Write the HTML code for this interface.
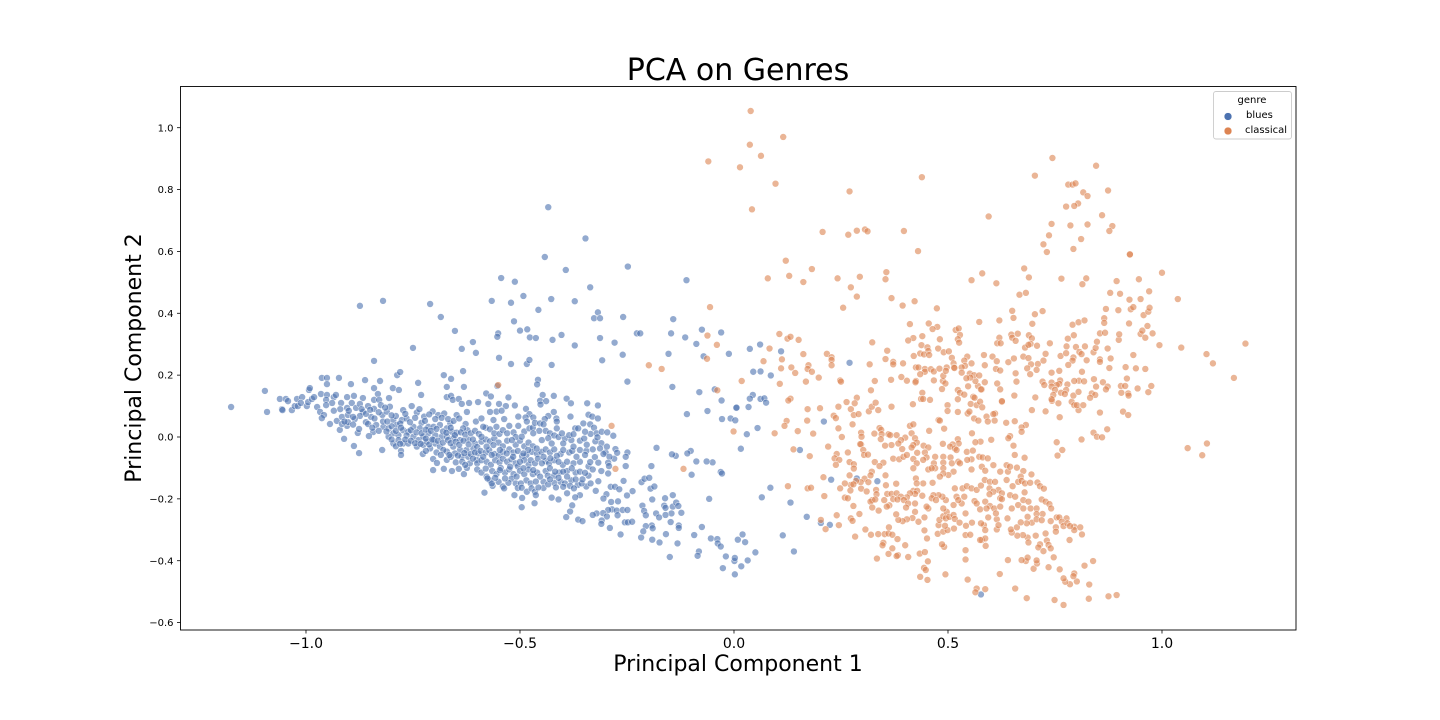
<!DOCTYPE html>
<html lang="en">
<head>
<meta charset="utf-8">
<title>PCA on Genres</title>
<style>
html,body{margin:0;padding:0;background:#fff;width:1440px;height:720px;overflow:hidden}
svg{display:block}
text{font-family:"DejaVu Sans","Liberation Sans",sans-serif;fill:#000}
</style>
</head>
<body>
<svg id="chart" width="1440" height="720" viewBox="0 0 1440 720" xmlns="http://www.w3.org/2000/svg">
  <rect x="0" y="0" width="1440" height="720" fill="#fff"/>
  <g id="marks"></g>
  <g id="ticks"></g>
  <rect x="180.5" y="86.5" width="1115.5" height="543.5" fill="none" stroke="#000" stroke-width="0.9"/>
  <text x="738" y="80" font-size="30" text-anchor="middle">PCA on Genres</text>
  <text x="738" y="671" font-size="22" text-anchor="middle">Principal Component 1</text>
  <text x="141" y="358" font-size="22" text-anchor="middle" transform="rotate(-90 141 358)">Principal Component 2</text>
  <g>
    <rect x="1213.5" y="91.5" width="78" height="47.5" rx="2.5" fill="#fff" fill-opacity="0.8" stroke="#ccc" stroke-width="0.9"/>
    <text x="1252" y="103" font-size="10" text-anchor="middle">genre</text>
    <circle cx="1228" cy="116.5" r="3.9" fill="#4c72b0" stroke="#fff" stroke-width="0.5"/>
    <text x="1246" y="118" font-size="10">blues</text>
    <circle cx="1228" cy="131" r="3.9" fill="#dd8452" stroke="#fff" stroke-width="0.5"/>
    <text x="1245" y="133" font-size="10">classical</text>
  </g>
</svg>
<script>
const xTickValues = [-1, -0.5, 0, 0.5, 1];
const xTickLabels = ["\u22121.0", "\u22120.5", "0.0", "0.5", "1.0"];
const yTickValues = [-0.6, -0.4, -0.2, 0, 0.2, 0.4, 0.6, 0.8, 1];
const yTickLabels = ["\u22120.6", "\u22120.4", "\u22120.2", "0.0", "0.2", "0.4", "0.6", "0.8", "1.0"];

const bluesPoints = [
[-1.175,.097],[-1.096,.149],[-1.091,.081],[-1.056,.09],[-1.055,.087],[-1.061,.123],[-1.047,.123],[-1.042,.116],[-1.033,.087],[-1.026,.1],[-1.019,.1],[-1.021,.123],[-1.009,.129],[-1.012,.11],[-.998,.1],[-.995,.113],[-.986,.123],[-.981,.129],[-.993,.152],[-.991,.158],[-.963,.191],[-.951,.191],[-.951,.171],[-.923,.191],[-.895,.171],[-.862,.184],[-.827,.181],[-.841,.158],[-.797,.158],[-.783,.152],[-.787,.2],[-.78,.21],[-.738,.175],[-.731,.136],[-.75,.288],[-.841,.246],[-.874,.424],[-.82,.44],[-.71,.43],[-.685,.388],[-.652,.343],[-.61,.307],[-.636,.285],[-.603,.272],[-.678,.2],[-.661,.188],[-.633,.213],[-.671,.162],[-.631,.162],[-.671,.129],[-.661,.133],[-.657,.12],[-.643,.123],[-.636,.107],[-.619,.11],[-.598,.113],[-.624,.081],
[-.965,.139],[-.951,.136],[-.953,.12],[-.935,.129],[-.93,.136],[-.939,.11],[-.953,.103],[-.974,.097],[-.967,.081],[-.958,.071],[-.963,.061],[-.944,.042],[-.928,.052],[-.921,.023],[-.916,.065],[-.902,.071],[-.904,.094],[-.904,.129],[-.888,.133],[-.918,.11],[-.893,.11],[-.883,.094],[-.867,.126],[-.874,.107],[-.855,.1],[-.841,.12],[-.832,.139],[-.829,.12],[-.806,.126],[-.825,.103],[-.841,.091],[-.867,.081],[-.874,.068],[-.886,.058],[-.904,.036],[-.916,.042],[-.902,.048],[-.86,.048],[-.848,.065],[-.855,.042],[-.836,.039],[-.843,.016],[-.853,.003],[-.879,.013],[-.876,.026],[-.911,-.006],[-.888,-.029],[-.876,-.052],[-.822,-.042],[-.778,-.045],[-.778,-.058],[-.727,-.055],[-.703,-.071],[-.694,-.084],[-.703,-.107],[-.678,-.103],[-.659,-.11],[-.643,-.103],[-.631,-.12],[-.624,-.1],
[-.8215,.071],[-.811,.082],[-.804,.098],[-.796,.055],[-.788,.039],[-.773,.087],[-.776,.055],[-.765,.06],[-.753,.1],[-.741,.079],[-.73,.046],[-.724,.066],[-.704,.083],[-.691,.071],[-.677,.076],[-.648,.071],[-.663,.044],[-.627,.042],[-.623,.022],[-.603,.05],[-.819,.033],[-.807,.028],[-.796,.012],[-.784,.006],[-.773,.022],[-.761,.017],[-.749,.033],[-.734,.028],[-.714,.033],[-.702,.033],[-.687,.039],[-.671,.028],[-.659,.017],[-.648,.014],[-.807,.001],[-.796,-.021],[-.784,-.01],[-.773,-.021],[-.761,-.021],[-.749,.001],[-.737,-.01],[-.726,.001],[-.714,.012],[-.698,.006],[-.683,.001],[-.671,.001],[-.656,-.004],[-.64,-.01],[-.621,-.008],[-.605,-.021],[-.741,-.031],[-.726,-.026],[-.71,-.037],[-.698,-.021],[-.687,-.031],[-.671,-.047],[-.656,-.031],[-.64,-.042],[-.625,-.042],[-.609,-.037],[-.597,-.053],[-.679,-.042],[-.652,-.053],[-.636,-.064],[-.621,-.064],[-.601,-.074],[-.617,-.085],[-.671,-.074],[-.662,-.064],[-.702,-.01],[-.718,-.015],
[-.79,.068],[-.78,.044],[-.768,.075],[-.757,.048],[-.745,.062],[-.735,.09],[-.722,.052],[-.712,.073],[-.698,.058],[-.683,.062],[-.668,.058],[-.655,.052],[-.642,.06],[-.633,.028],[-.812,.018],[-.8,.035],[-.79,.02],[-.778,.03],[-.765,.005],[-.755,.022],[-.742,.015],[-.73,.012],[-.72,.024],[-.708,.02],[-.695,.026],[-.68,.018],[-.672,.014],[-.662,.03],[-.652,.006],[-.638,.015],[-.628,.008],[-.615,.012],[-.605,.02],[-.596,.01],[-.8,-.008],[-.79,-.03],[-.78,-.022],[-.768,-.008],[-.755,-.012],[-.745,-.02],[-.732,-.022],[-.72,-.005],[-.712,-.024],[-.705,-.008],[-.692,-.012],[-.68,-.018],[-.668,-.01],[-.662,-.02],[-.65,-.015],[-.642,-.025],[-.632,-.012],[-.62,-.024],[-.61,-.008],[-.6,-.032],[-.59,-.015],[-.58,-.008],[-.57,-.014],[-.56,-.005],[-.55,-.018],[-.54,-.03],[-.53,-.012],[-.51,-.025],[-.5,-.012],[-.49,-.03],[-.48,-.018],[-.47,-.03],
[-.72,-.045],[-.695,-.05],[-.685,-.058],[-.665,-.058],[-.645,-.06],[-.63,-.052],[-.615,-.055],[-.605,-.05],[-.592,-.045],[-.58,-.05],[-.572,-.042],[-.56,-.055],[-.55,-.06],[-.54,-.048],[-.525,-.04],[-.515,-.05],[-.505,-.045],[-.495,-.062],[-.485,-.058],[-.472,-.048],[-.46,-.055],[-.45,-.048],[-.44,-.04],[-.43,-.05],[-.42,-.04],[-.405,-.055],[-.385,-.05],[-.378,-.045],[-.36,-.042],[-.345,-.045],[-.65,-.082],[-.635,-.08],[-.628,-.09],[-.61,-.07],[-.6,-.085],[-.59,-.075],[-.578,-.08],[-.568,-.09],[-.558,-.075],[-.548,-.082],[-.54,-.07],[-.53,-.08],[-.52,-.072],[-.51,-.085],[-.505,-.095],[-.49,-.075],[-.48,-.09],[-.475,-.075],[-.465,-.085],[-.458,-.07],[-.44,-.078],[-.432,-.085],[-.42,-.075],[-.4,-.09],[-.39,-.08],[-.375,-.085],[-.36,-.08],[-.34,-.095],
[-.6,-.105],[-.59,-.115],[-.58,-.102],[-.565,-.11],[-.555,-.12],[-.545,-.1],[-.535,-.115],[-.525,-.105],[-.515,-.12],[-.5,-.11],[-.49,-.12],[-.48,-.105],[-.47,-.12],[-.46,-.115],[-.44,-.11],[-.435,-.125],[-.42,-.125],[-.408,-.115],[-.39,-.11],[-.37,-.115],[-.34,-.125],[-.57,-.14],[-.55,-.145],[-.54,-.16],[-.52,-.135],[-.51,-.15],[-.505,-.165],[-.485,-.14],[-.475,-.15],[-.445,-.145],[-.445,-.165],[-.42,-.148],[-.405,-.145],[-.395,-.15],[-.38,-.14],[-.365,-.155],[-.345,-.16],[-.335,-.15],
[-.59,.06],[-.58,.03],[-.57,.025],[-.56,.012],[-.548,.01],[-.54,.022],[-.53,.012],[-.515,.015],[-.51,.0],[-.49,.018],[-.478,.028],[-.47,.03],[-.455,.02],[-.44,.02],[-.43,.012],[-.42,.005],[-.41,.0],[-.395,-.005],[-.38,-.01],[-.36,-.012],[-.35,-.005],[-.335,.01],[-.31,-.02],[-.33,-.04],[-.325,-.065],[-.3,-.05],[-.28,-.07],[-.33,-.105],[-.31,-.11],[-.9,.085],[-.89,.065],[-.87,.09],[-.86,.075],[-.85,.088],[-.84,.06],[-.83,.08],[-.815,.095],[-.82,.05],[-.845,.03],[-.83,.02],[-.81,.05],[-.8,.07],[-.92,.09],[-.935,.085],[-.91,.05],[-.89,.04],
[-.566,.44],[-.521,.434],[-.492,.456],[-.427,.446],[-.372,.439],[-.336,.484],[-.512,.502],[-.544,.514],[-.457,.411],[-.514,.374],[-.483,.348],[-.5,.344],[-.551,.335],[-.553,.324],[-.477,.322],[-.463,.32],[-.424,.314],[-.403,.33],[-.372,.296],[-.318,.403],[-.327,.384],[-.313,.384],[-.259,.388],[-.313,.32],[-.279,.305],[-.26,.266],[-.308,.248],[-.227,.335],[-.219,.335],[-.142,.381],[-.147,.335],[-.114,.322],[-.075,.347],[-.03,.338],[-.088,.301],[-.153,.269],[-.071,.261],[-.012,.269],[-.249,.179],[-.144,.162],[-.081,.145],[-.045,.154],[-.029,.118],[.005,.094],[-.11,.074],[-.062,.084],[-.028,.058],[-.008,.06],[.003,.054],[-.549,.256],[-.521,.236],[-.484,.236],[-.478,.249],[-.426,.233],[-.458,.185],[-.46,.17],[-.553,.165],[-.579,.141],[-.568,.131],[-.527,.128],[-.421,.133],[-.447,.136],[-.453,.117],[-.439,.116],[-.452,.105],[-.391,.124],[-.381,.109],[-.343,.109],[-.318,.102],[-.512,.102],[-.549,.107],[-.574,.107],[-.533,.1],[-.555,.082],[-.543,.085],[-.57,.081],[-.486,.091],[-.421,.081],[-.434,.068],[-.442,.058],[-.478,.074],[-.504,.066],[-.469,.063],[-.487,.063],[-.382,.066],[-.415,.06],[-.34,.072],[-.331,.066],[-.318,.06],[-.414,.05],[-.562,.055],[-.537,.058],[-.555,.033],[-.525,.036],[-.504,.036],[-.484,.05],[-.465,.046],[-.453,.044],[-.445,.041],[-.414,.028],[-.402,.012],[-.371,.028],[-.364,.028],[-.352,.044],[-.336,.041],[-.327,.03],[-.348,.017],[-.385,.006],[-.375,.009],[-.321,.012],[-.309,.017],[-.296,.015],[-.282,.004],[-.324,-.014],[-.319,-.001],[-.344,-.025],[-.313,-.037],[-.297,-.031],[-.277,-.039],[-.273,-.051],[-.249,-.05],[-.253,-.064],[-.305,-.055],[-.317,-.083],[-.336,-.081],[-.348,-.058],[-.291,-.064],[-.294,-.083],[-.292,-.094],[-.294,-.118],[-.253,-.094],[-.368,-.064],[-.375,-.031],[-.399,-.021],[-.399,-.042],[-.414,-.061],[-.429,-.069],[-.41,-.08],[-.445,-.064],[-.449,-.085],[-.461,-.037],[-.481,-.042],[-.492,-.053],[-.516,-.064],[-.5,-.08],[-.531,-.053],[-.547,-.042],[-.562,-.026],[-.578,-.031],[-.586,.033],[-.59,.001],[-.566,-.058],[-.586,-.064],[-.547,-.107],[-.519,-.01],[-.496,.001],[-.469,.012],[-.449,-.01],[-.434,-.004],[-.426,-.021],[-.523,-.096],[-.492,-.101],[-.469,-.107],[-.43,-.101],[-.399,-.112],[-.379,-.101],[-.36,-.112],[-.348,-.116],[-.418,-.112],[-.578,-.128],[-.508,-.128],[-.453,-.128],
[-.583,-.18],[-.564,-.158],[-.566,-.15],[-.537,-.166],[-.513,-.188],[-.495,-.197],[-.496,-.227],[-.466,-.214],[-.498,-.15],[-.496,-.164],[-.484,-.177],[-.473,-.166],[-.465,-.177],[-.463,-.188],[-.457,-.163],[-.463,-.144],[-.527,-.148],[-.535,-.134],[-.558,-.132],[-.576,-.134],[-.426,-.196],[-.41,-.202],[-.434,-.153],[-.416,-.163],[-.399,-.161],[-.39,-.182],[-.383,-.158],[-.374,-.166],[-.36,-.188],[-.371,-.195],[-.378,-.221],[-.383,-.241],[-.392,-.259],[-.364,-.267],[-.354,-.272],[-.356,-.15],[-.354,-.137],[-.37,-.137],[-.39,-.128],[-.41,-.132],[-.43,-.137],[-.317,-.143],[-.323,-.174],[-.288,-.161],[-.278,-.161],[-.268,-.169],[-.258,-.142],[-.237,-.175],[-.25,-.189],[-.298,-.185],[-.305,-.199],[-.287,-.21],[-.271,-.208],[-.285,-.234],[-.294,-.236],[-.274,-.238],[-.26,-.236],[-.249,-.236],[-.306,-.246],[-.321,-.247],[-.33,-.252],[-.297,-.257],[-.272,-.253],[-.309,-.27],[-.31,-.281],[-.29,-.294],[-.265,-.315],[-.255,-.276],[-.248,-.276],[-.238,-.274],[-.216,-.146],[-.209,-.135],[-.198,-.132],[-.195,-.167],[-.186,-.16],[-.191,-.202],[-.214,-.222],[-.21,-.239],[-.206,-.253],[-.182,-.247],[-.175,-.26],[-.161,-.198],[-.143,-.188],[-.163,-.222],[-.16,-.229],[-.143,-.225],[-.135,-.212],[-.13,-.223],[-.146,-.247],[-.123,-.245],[-.16,-.252],[-.148,-.275],[-.129,-.286],[-.129,-.294],[-.075,-.291],[-.192,-.286],[-.19,-.295],[-.206,-.288],[-.212,-.305],[-.217,-.325],[-.191,-.332],[-.159,-.314],[-.174,-.341],[-.132,-.344],[-.093,-.317],[-.054,-.328],[-.039,-.33],[-.038,-.344],[-.031,-.354],[.009,-.332],[.02,-.315],[.026,-.34],[.05,-.373],[.032,-.399],[.017,-.418],[.002,-.444],[-.026,-.424],[.001,-.401],[.002,-.391],[-.019,-.386],[-.082,-.37],[-.085,-.384],[-.15,-.388],[.085,-.164],[.065,-.195],[-.058,-.2],[-.031,-.113],[-.028,-.118],[-.099,-.122],[-.05,-.082],[-.064,-.079],[-.088,-.079],[-.101,-.045],[-.109,-.053],[-.136,-.061],[-.145,-.056],[-.181,-.035],[-.193,-.094],[.016,-.038],
[-.434,.743],[-.347,.642],[-.442,.582],[-.393,.54],[-.248,.551],[-.111,.507],
[.037,.285],[.061,.299],[.11,.277],[.045,.211],[.062,.212],[.086,.199],[.27,.24],[.044,.136],[.037,.124],[.062,.123],[.071,.125],[.075,.111],[.006,.095],[.034,.097],[.055,.029],[.03,.009],[.21,.05],
[.154,-.042],[.227,-.138],[.335,-.143],[.287,-.134],[.132,-.212],[.17,-.258],[.203,-.278],[.224,-.284],[.114,-.318],[.14,-.37],[.577,-.509]
];

const classicalPoints = [
[.079,.513],[.129,.521],[.162,.501],[.242,.513],[.273,.484],[.294,.518],[.287,.454],[.255,.418],[.106,.333],[.125,.318],[.132,.324],[.151,.314],[.083,.286],[.162,.268],[.217,.269],[.228,.258],[.228,.249],[.228,.232],[.069,.245],[.112,.251],[.174,.232],[.172,.22],[.182,.211],[.134,.225],[.11,.222],[.143,.207],[.198,.192],[.018,.181],[.107,.172],[.168,.179],[.248,.183],[.25,.179],[.287,.127],[.132,.124],[.127,.118],[-.001,.018],[.095,.012],
[-.056,.42],[-.062,.328],[-.04,.298],[-.063,.253],[-.199,.232],[-.169,.22],[-.039,.151],[-.286,.036],[-.277,-.103],[-.118,-.103],[-.551,.168],
[.172,.09],[.201,.093],[.244,.098],[.263,.113],[.273,.09],[.282,.109],[.315,.083],[.322,.098],[.331,.111],[.337,.087],[.368,.098],[.418,.106],[.499,.103],[.553,.107],[.567,.103],[.575,.114],[.58,.096],[.499,.084],[.523,.081],[.546,.076],[.55,.082],[.561,.06],[.571,.053],[.59,.066],[.593,.05],[.61,.076],[.609,.053],[.606,.074],[.626,.114],[.636,.046],[.656,.051],[.696,.087],[.728,.083],[.743,.117],[.758,.109],[.761,.064],[.789,.114],[.795,.103],[.805,.087],[.801,.103],[.816,.103],[.855,.079],[.123,.052],[.118,.036],[.149,.019],[.171,.053],[.185,.011],[.233,.069],[.238,.061],[.28,.071],[.291,.074],[.277,.041],[.244,.028],[.252,0],[.22,-.031],[.139,-.04],[.177,-.062],[.34,.029],[.344,.023],[.328,.011],[.297,.014],[.298,.001],[.345,.009],[.343,-.007],[.361,.009],[.365,.006],[.38,.006],[.4,-.002],[.39,-.01],[.415,.012],[.411,.036],[.419,.041],[.456,.02],[.478,.055],[.481,.053],[.491,.027],[.556,.012],[.682,.039],[.672,.031],[.672,.017],[.645,.003],[.641,-.004],[.601,-.009],[.576,-.015],[.564,-.017],[.523,-.007],[.525,-.021],[.511,-.024],[.505,-.031],[.516,-.037],[.52,-.042],[.488,-.022],[.423,-.004],[.427,-.018],[.419,-.026],[.415,-.034],[.393,-.039],[.384,-.021],[.368,-.026],[.353,-.028],[.297,-.024],[.295,-.023],[.302,-.042],[.304,-.058],[.313,-.057],[.266,-.05],[.24,-.055],[.235,-.069],[.246,-.074],[.238,-.09],[.27,-.081],[.28,-.088],[.28,-.102],[.27,-.124],[.209,-.13],[.329,-.081],[.349,-.083],[.34,-.094],[.322,-.112],[.319,-.124],[.354,-.124],[.305,-.135],[.314,-.146],[.296,-.146],[.285,-.142],[.273,-.155],[.279,-.153],[.259,-.15],[.248,-.166],[.272,-.173],[.297,-.167],[.31,-.176],[.332,-.171],[.333,-.185],[.379,-.151],[.355,-.156],[.358,-.184],[.368,-.184],[.38,-.182],[.372,-.201],[.351,-.204],[.323,-.204],[.319,-.209],[.33,-.202],[.279,-.223],[.259,-.196],[.266,-.198],[.211,-.191],[.126,-.159],[.172,-.166],[.18,-.164],
[.372,-.07],[.386,-.072],[.396,-.064],[.404,-.058],[.419,-.071],[.428,-.051],[.427,-.085],[.419,-.101],[.443,-.028],[.454,-.034],[.446,-.05],[.45,-.066],[.442,-.074],[.47,-.064],[.489,-.064],[.506,-.066],[.489,-.083],[.467,-.085],[.47,-.101],[.454,-.105],[.462,-.101],[.489,-.101],[.509,-.085],[.524,-.08],[.528,-.085],[.544,-.048],[.558,-.044],[.555,-.072],[.545,-.074],[.573,-.064],[.581,-.066],[.593,-.069],[.606,-.091],[.579,-.096],[.587,-.109],[.555,-.105],[.513,-.112],[.501,-.123],[.489,-.118],[.481,-.128],[.464,-.148],[.442,-.15],[.425,-.134],[.427,-.15],[.419,-.174],[.428,-.174],[.423,-.184],[.411,-.182],[.404,-.195],[.39,-.193],[.382,-.202],[.397,-.204],[.407,-.215],[.423,-.215],[.402,-.228],[.423,-.242],[.363,-.221],[.357,-.225],[.323,-.228],[.338,-.238],[.293,-.249],[.24,-.253],[.273,-.263],[.277,-.271],[.203,-.268],[.214,-.298],[.245,-.285],[.283,-.322],[.307,-.299],[.32,-.316],[.337,-.314],[.352,-.314],[.362,-.292],[.361,-.312],[.37,-.316],[.382,-.33],[.349,-.342],[.347,-.35],[.4,-.35],[.37,-.36],[.361,-.378],[.383,-.382],[.38,-.385],[.334,-.393],[.407,-.388],[.434,-.377],[.446,-.372],[.453,-.402],[.444,-.423],[.448,-.43],[.435,-.452],[.452,-.462],[.494,-.444],[.546,-.461],[.567,-.49],[.564,-.502],[.587,-.492],[.621,-.443],[.657,-.49],[.684,-.521],[.749,-.527],[.77,-.543],[.829,-.523],[.875,-.515],[.894,-.511],[.83,-.477],[.801,-.467],[.785,-.476],[.774,-.468],[.77,-.457],[.795,-.441],[.793,-.45],[.761,-.428],[.735,-.421],[.7,-.426],[.708,-.409],[.707,-.399],[.682,-.401],[.686,-.39],[.672,-.398],[.64,-.398],[.747,-.389],[.819,-.416],[.839,-.401],[.541,-.366],[.541,-.396],[.491,-.355],[.486,-.347],[.451,-.328],[.445,-.302],[.476,-.313],[.489,-.306],[.499,-.301],[.478,-.285],[.493,-.287],[.48,-.268],[.489,-.256],[.497,-.242],[.495,-.263],[.503,-.258],[.513,-.252],[.516,-.265],[.527,-.277],[.514,-.296],[.541,-.317],[.552,-.316],[.556,-.277],[.542,-.287],[.541,-.247],[.532,-.215],[.52,-.193],[.524,-.204],[.538,-.193],[.513,-.22],[.489,-.231],[.495,-.204],[.487,-.193],[.478,-.188],[.466,-.188],[.462,-.198],[.454,-.231],[.45,-.225],[.472,-.204],[.445,-.26],[.431,-.274],[.417,-.262],[.404,-.266],[.394,-.272],[.384,-.268],[.379,-.25],[.44,-.19],[.516,-.166],[.534,-.166],[.544,-.159],[.555,-.166],[.567,-.171],[.577,-.157],[.586,-.139],[.598,-.145],[.61,-.145],[.597,-.166],[.618,-.171],[.626,-.182],[.645,-.188],[.657,-.193],[.637,-.139],[.64,-.112],[.622,-.112],[.637,-.091],[.645,-.096],[.661,-.099],[.676,-.11],[.695,-.121],[.67,-.128],[.664,-.145],[.672,-.142],[.68,-.15],[.692,-.148],[.709,-.147],[.715,-.159],[.724,-.167],[.651,-.159],[.679,-.179],[.622,-.198],[.626,-.201],[.606,-.177],[.597,-.185],[.587,-.209],[.575,-.234],[.562,-.207],[.567,-.215],[.598,-.223],[.59,-.231],[.608,-.231],[.622,-.225],[.649,-.231],[.664,-.22],[.676,-.204],[.688,-.209],[.676,-.231],[.693,-.231],[.707,-.231],[.719,-.202],[.728,-.209],[.737,-.217],[.741,-.231],[.721,-.249],[.707,-.249],[.686,-.258],[.696,-.277],[.684,-.279],[.707,-.266],[.719,-.269],[.74,-.272],[.754,-.26],[.76,-.26],[.777,-.263],[.766,-.274],[.77,-.288],[.779,-.279],[.752,-.292],[.752,-.306],[.795,-.29],[.795,-.301],[.809,-.292],[.813,-.315],[.784,-.333],[.728,-.312],[.705,-.319],[.686,-.325],[.688,-.341],[.675,-.317],[.662,-.319],[.649,-.309],[.647,-.299],[.661,-.292],[.67,-.276],[.639,-.263],[.614,-.266],[.594,-.26],[.584,-.285],[.577,-.279],[.587,-.301],[.579,-.333],[.587,-.328],[.588,-.352],[.575,-.333],[.614,-.299],[.618,-.285],[.612,-.247],[.731,-.335],[.735,-.349],[.74,-.36],[.715,-.347],[.711,-.357],[.723,-.369],[.785,-.288],
[.872,.025],[.84,.014],[.848,.001],[.86,-.001],[.812,-.008],[.754,-.017],[.767,-.042],[.756,-.06],[.679,-.067],[.656,-.058],[.653,-.028],
[.207,.663],[.267,.654],[.287,.667],[.306,.671],[.312,.665],[.397,.666],[.43,.601],[.121,.57],[.182,.543],[.368,.449],[.356,.533],[.354,.51],[.394,.425],[.422,.439],[.474,.416],[.411,.365],[.455,.367],[.475,.356],[.464,.349],[.573,.372],[.62,.377],[.518,.346],[.525,.351],[.528,.33],[.523,.316],[.526,.305],[.44,.326],[.419,.32],[.407,.312],[.481,.316],[.438,.297],[.452,.29],[.454,.278],[.435,.27],[.444,.267],[.456,.265],[.42,.262],[.477,.286],[.49,.274],[.502,.277],[.509,.256],[.513,.238],[.514,.225],[.545,.26],[.538,.247],[.54,.23],[.532,.225],[.555,.238],[.584,.265],[.604,.26],[.614,.245],[.586,.232],[.612,.22],[.622,.215],[.641,.242],[.654,.254],[.676,.26],[.688,.255],[.694,.235],[.685,.222],[.71,.236],[.723,.247],[.728,.269],[.707,.217],[.692,.203],[.658,.206],[.66,.179],[.615,.173],[.622,.154],[.586,.177],[.57,.165],[.579,.154],[.547,.164],[.564,.181],[.551,.205],[.561,.2],[.573,.199],[.552,.192],[.543,.19],[.532,.208],[.488,.181],[.494,.173],[.489,.198],[.467,.183],[.486,.155],[.404,.182],[.425,.181],[.391,.194],[.367,.185],[.329,.181],[.32,.151],[.354,.252],[.358,.279],[.323,.306],[.372,.243],[.372,.235],[.395,.238],[.317,.235],[.425,.225],[.431,.225],[.446,.22],[.446,.211],[.435,.203],[.46,.219],[.467,.212],[.48,.221],[.497,.225],[.495,.214],[.515,.223],[.424,.177],[.44,.143],[.437,.123],[.442,.123],[.458,.12],[.523,.152],[.528,.143],[.538,.137],[.523,.122],[.559,.13],[.562,.127],[.577,.154],[.626,.116],[.655,.134],[.704,.128],[.65,.408],[.653,.385],[.703,.397],[.721,.407],[.697,.366],[.667,.46],[.682,.466],[.689,.516],[.555,.507],[.58,.529],[.613,.497],[.648,.331],[.663,.334],[.65,.321],[.658,.311],[.689,.329],[.696,.319],[.693,.301],[.68,.289],[.688,.298],[.708,.295],[.62,.321],[.615,.303],[.623,.303],[.738,.303],[.78,.318],[.794,.329],[.777,.293],[.799,.291],[.82,.293],[.763,.262],[.776,.271],[.793,.257],[.791,.247],[.807,.275],[.812,.268],[.824,.248],[.781,.233],[.76,.214],[.742,.208],[.813,.211],[.841,.187],[.806,.182],[.795,.181],[.818,.18],[.762,.183],[.76,.172],[.721,.179],[.725,.168],[.742,.176],[.754,.168],[.742,.163],[.779,.17],[.776,.152],[.75,.152],[.764,.143],[.773,.139],[.746,.136],[.793,.134],[.805,.146],[.836,.141],[.844,.136],[.832,.127],[.742,.122],[.846,.163],[.862,.177],[.873,.163],[.869,.154],[.904,.165],[.914,.165],[.943,.157],[.975,.165],[.968,.145],[.905,.143],[.921,.141],[.922,.134],[.918,.189],[.915,.226],[.939,.222],[.961,.22],[.877,.223],[.88,.254],[.855,.251],[.855,.243],[.933,.265],[.873,.286],[.84,.274],[.845,.288],[.848,.308],[.855,.335],[.867,.337],[.899,.314],[.9,.332],[.95,.333],[.954,.344],[.961,.321],[.978,.335],[.966,.359],[.994,.297],[1.045,.289],[.923,.367],[.865,.384],[.865,.369],[.791,.363],[.805,.371],[.819,.377],[.869,.414],[.898,.41],[.927,.413],[.933,.42],[.957,.394],[.968,.405],[.971,.418],[.95,.446],[.924,.444],[.902,.463],[.879,.466],[.97,.471],[1.037,.446],[.894,.504],[.946,.51],[1.0,.531],[.765,.512],[.823,.513],[.814,.494],[.925,.591],[.925,.59],
[.039,1.054],[.115,.97],[.037,.945],[.063,.909],[-.06,.891],[.014,.872],[.097,.819],[.27,.794],[.439,.84],[.042,.736],
[.744,.902],[.846,.877],[.703,.845],[.781,.816],[.791,.816],[.798,.82],[.816,.791],[.826,.779],[.874,.797],[.804,.755],[.795,.747],[.776,.745],[.86,.717],[.595,.713],[.742,.689],[.786,.684],[.826,.687],[.884,.682],[.877,.666],[.736,.652],[.811,.64],[.723,.623],[.731,.598],[.793,.608],[.678,.545],
[1.195,.302],[1.104,.268],[1.119,.238],[1.168,.191],[.909,.082],[.921,.071],[1.06,-.036],[1.105,-.021],[1.094,-.059]
];

const xDomain = [-1.2932, 1.3131];
const yDomain = [-0.624, 1.1332];
const plotLeft = 180.5, plotRight = 1296, plotTop = 86.5, plotBottom = 630;
const SVG_NS = "http://www.w3.org/2000/svg";

function xAxis(v) {
  return plotLeft + (v - xDomain[0]) / (xDomain[1] - xDomain[0]) * (plotRight - plotLeft);
}
function yAxis(v) {
  return plotBottom - (v - yDomain[0]) / (yDomain[1] - yDomain[0]) * (plotBottom - plotTop);
}

const marksGroup = document.getElementById("marks");
const ticksGroup = document.getElementById("ticks");

function drawSeries(points, color, markName) {
  points.forEach(function (p) {
    const c = document.createElementNS(SVG_NS, "circle");
    
    
    c.setAttribute("cx", xAxis(p[0]).toFixed(2));
    c.setAttribute("cy", yAxis(p[1]).toFixed(2));
    c.setAttribute("r", "3.5");
    c.setAttribute("fill", color);
    c.setAttribute("stroke", "#fff");
    c.setAttribute("stroke-width", "0.6");
    c.setAttribute("opacity", "0.6");
    marksGroup.appendChild(c);
  });
}
drawSeries(bluesPoints, "#4c72b0", "point-blues");
drawSeries(classicalPoints, "#dd8452", "point-classical");

xTickValues.forEach(function (v, i) {
  const px = xAxis(v);
  const line = document.createElementNS(SVG_NS, "line");
  
  
  line.setAttribute("x1", px); line.setAttribute("x2", px);
  line.setAttribute("y1", plotBottom); line.setAttribute("y2", plotBottom + 3.5);
  line.setAttribute("stroke", "#000"); line.setAttribute("stroke-width", "0.8");
  ticksGroup.appendChild(line);
  const label = document.createElementNS(SVG_NS, "text");
  
  
  label.setAttribute("x", px); label.setAttribute("y", plotBottom + 18);
  label.setAttribute("font-size", "14"); label.setAttribute("text-anchor", "middle");
  label.textContent = xTickLabels[i];
  ticksGroup.appendChild(label);
});

yTickValues.forEach(function (v, i) {
  const py = yAxis(v);
  const line = document.createElementNS(SVG_NS, "line");
  
  
  line.setAttribute("x1", plotLeft - 3.5); line.setAttribute("x2", plotLeft);
  line.setAttribute("y1", py); line.setAttribute("y2", py);
  line.setAttribute("stroke", "#000"); line.setAttribute("stroke-width", "0.8");
  ticksGroup.appendChild(line);
  const label = document.createElementNS(SVG_NS, "text");
  
  
  label.setAttribute("x", plotLeft - 7); label.setAttribute("y", py + 3.6);
  label.setAttribute("font-size", "10"); label.setAttribute("text-anchor", "end");
  label.textContent = yTickLabels[i];
  ticksGroup.appendChild(label);
});
</script>
</body>
</html>
